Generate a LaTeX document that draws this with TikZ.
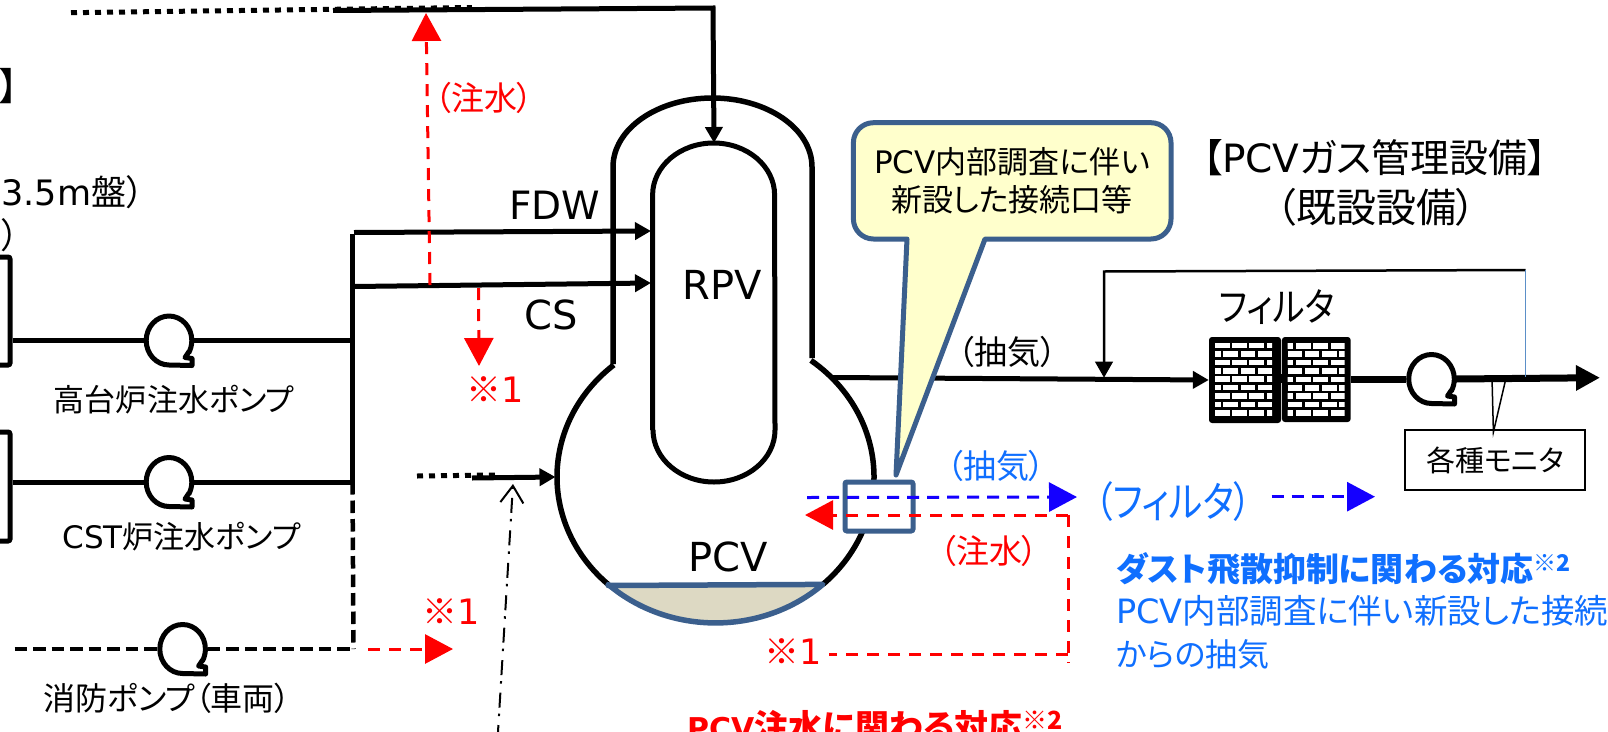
\documentclass[tikz,border=0pt]{standalone}
\usepackage{fontspec}
\usepackage{graphicx}
\usetikzlibrary{arrows.meta,calc}
\setmainfont[RawFeature=+palt]{Noto Sans CJK JP}
\newfontfamily\latf{DejaVu Sans}
\newcommand\fsz[1]{\fontsize{#1}{#1}\selectfont}
\definecolor{nav}{HTML}{3B5F8D}
\definecolor{cfill}{HTML}{FFFFCC}
\definecolor{water}{HTML}{DDD9C3}
\definecolor{tblue}{HTML}{0F6FFF}
\definecolor{ablue}{HTML}{1400FF}
\tikzset{
  pipe/.style={line width=5pt,black},
  dotpipe/.style={line width=5pt,black,dash pattern=on 6pt off 6pt},
  dashpipe/.style={line width=4.5pt,black,dash pattern=on 12.5pt off 6pt},
  blk/.style={-{Triangle[length=16pt,width=17pt]}},
  reddash/.style={line width=3pt,red,dash pattern=on 12pt off 9pt},
  bluedash/.style={line width=3pt,ablue,dash pattern=on 12pt off 8pt},
  redtip/.style={-{Triangle[length=28pt,width=29pt]}},
  bluetip/.style={-{Triangle[length=28pt,width=29pt]}},
  lbl/.style={inner sep=0pt,font=\fsz{31}},
  rlbl/.style={lbl,red,font=\fsz{33}},
  blbl/.style={lbl,tblue,font=\fsz{33}},
  latin/.style={inner sep=0pt,font=\fsz{40}\latf},
  pumpn/.style={rectangle,inner sep=0pt,minimum width=50pt,minimum height=50pt},
  pumpline/.style={line width=5pt,black,line join=round},
  boxn/.style={rectangle,inner sep=0pt,draw=black,line width=5pt,rounded corners=2pt},
  filtn/.style={rectangle,inner sep=0pt,fill=black,rounded corners=3pt},
}
\newcommand\pumpat[3]{%
  \node[pumpn] (#1) at (#2,#3) {};
  \draw[pumpline] (#2+20,#3+11) -- (#2+16,#3+17) -- (#2+23,#3+18) -- (#2+23,#3+25) -- (#2,#3+24.5)
     arc[start angle=90,end angle=390,x radius=22.8,y radius=24.5];
}
% name, cx, cy, w, h, inner x, inner y, phase
\newcommand\filterat[8]{%
  \node[filtn,minimum width=#4pt,minimum height=#5pt] (#1) at (#2,#3) {};
  \begin{scope}
    \clip (#6,#7) rectangle (#6+57,#7+73);
    \foreach \i in {0,...,8} {
      \pgfmathsetmacro\off{mod(\i+#8,2)==0?-8.8:0}
      \foreach \k in {0,...,4}
        \fill[white] ({#6+\off+\k*17.2},{#7+\i*8.4}) rectangle ({#6+\off+\k*17.2+14.5},{#7+\i*8.4+5.6});
    }
  \end{scope}
}
\begin{document}
\begin{tikzpicture}[x=1pt,y=1pt,yscale=-1]
\useasboundingbox (0,0) rectangle (1608,731);
\clip (0,0) rectangle (1608,731);
\fill[white] (0,0) rectangle (1608,731);

% ---- left boxes (cut by the edge)
\node[boxn,minimum width=70pt,minimum height=108pt] (b1) at (-25,311) {};
\node[boxn,minimum width=70pt,minimum height=109pt] (b2) at (-25,486.5) {};

% ---- pumps
\pumpat{p1}{169}{340.5}
\pumpat{p2}{169}{482}
\pumpat{p3}{182.6}{649}
\pumpat{p4}{1431.5}{379}

% ---- water-injection header
\coordinate (hTop) at (352.5,234);
\coordinate (hMid) at (352.5,340.5);
\coordinate (hLow) at (352.5,482);
\coordinate (hEnd) at (353.5,649);
\draw[pipe] (b1.east |- p1.west) -- (p1.west);
\draw[pipe] (p1.east) -- (hMid);
\draw[pipe] (b2.east |- p2.west) -- (p2.west);
\draw[pipe] (p2.east) -- (hLow);
\draw[pipe] (hTop) -- (hLow);
\draw[dashpipe] (hLow) -- (hEnd);
\coordinate (fsL) at (14.5,649);
\draw[dashpipe] (fsL) -- (p3.west);
\draw[dashpipe] (p3.east) -- (hEnd);

% ---- vessels
\coordinate (rTop) at (714,143);
\draw[pipe] (652.6,430) -- (652.6,195) arc[start angle=180,end angle=360,x radius=61,y radius=52] -- (775,430)
   arc[start angle=0,end angle=180,x radius=61,y radius=52];
\draw[line width=5.5pt,black] (613,364) -- (613,167) arc[start angle=180,end angle=360,x radius=99.5,y radius=69] -- (812,358);
\draw[line width=5.5pt,black] (810.9,360.4) arc[start angle=-53,end angle=47.4,x radius=158.5,y radius=146];
\draw[line width=5.5pt,black] (608.2,584.4) arc[start angle=132.6,end angle=230.1,x radius=158.5,y radius=146];
\draw[line width=5.5pt,nav,fill=water,line join=round] (608.2,585.5) -- (822.8,584.4) arc[start angle=47.4,end angle=132.6,x radius=158.5,y radius=146] -- cycle;

% ---- feeds to the RPV
\coordinate (fdwS) at (354,232.5);
\coordinate (fdwE) at (651,231);
\coordinate (csS) at (354,286.5);
\coordinate (csE) at (651,283);
\draw[pipe,blk] (fdwS) -- (fdwE);
\draw[pipe,blk] (csS) -- (csE);
\coordinate (topA) at (333,10.5);
\coordinate (topB) at (713,8);
\coordinate (topS) at (71,12.7);
\coordinate (topD) at (472,7.5);
\draw[dotpipe] (topS) -- (topD);
\draw[pipe,line join=miter,blk] (topA) -- (topB) -- (rTop);

% ---- side feed into the PCV
\coordinate (sdS) at (417,476);
\coordinate (sdD) at (495,475);
\coordinate (sdA) at (472,478);
\coordinate (sdE) at (555.5,477);
\draw[dotpipe] (sdS) -- (sdD);
\draw[pipe,blk] (sdA) -- (sdE);
\coordinate (ddS) at (497.5,740);
\coordinate (ddE) at (513,484);
\draw[line width=2pt,black,dash pattern=on 15pt off 9pt on 2.5pt off 6pt,-{Straight Barb[length=17pt,width=23pt]}] (ddS) -- (ddE);

% ---- gas line
\coordinate (gasS) at (833,377.5);
\coordinate (mix) at (1104,377.7);
\filterat{f1}{1245}{380}{72}{86}{1215}{342.7}{1}
\filterat{f2}{1316.3}{379.5}{68.7}{85}{1287.7}{343}{0}
\draw[pipe,blk] (gasS) -- (f1.west);
\fill[black] (f1.east |- 0,374) rectangle (f2.west |- 0,383);
\draw[line width=7pt,black] (f2.east) -- (p4.west |- f2.east);
\coordinate (gasE) at (1600,377.7);
\coordinate (gasM) at (1456,379);
\draw[line width=7pt,black,-{Triangle[length=24pt,width=24pt]}] (gasM) -- (gasE);
\coordinate (fbA) at (1525.6,270);
\draw[line width=2.5pt,black,-{Triangle[length=16pt,width=17.5pt]}] (fbA) -- (1104,271.5) -- (mix);
\coordinate (fbB) at (1525.6,376.7);
\draw[line width=1.5pt,color={rgb,255:red,91;green,143;blue,200}] (fbA) -- (fbB);
\node[draw=black,line width=2pt,rectangle,inner sep=0pt,minimum width=180pt,minimum height=60pt,lbl,font=\fsz{29}] (mon) at (1495,460) {各種モニタ};
\coordinate (wa) at (1492,378);
\coordinate (wb) at (1506,378);
\coordinate (wc) at (1493.4,432);
\draw[line width=1.5pt,black] (wa) -- (wc) -- (wb);

% ---- callout
\draw[line width=5pt,nav,fill=cfill,line join=round] (907,239) [sharp corners] -- (896,475) -- (985,239)
  [rounded corners=20pt] -- (1171,239) -- (1171,122.7) -- (853.4,122.7) -- (853.4,239) [sharp corners] -- cycle;
\node[lbl,font=\fsz{31}] (c1) at (1012,162) {{\latf PCV}内部調査に伴い};
\node[lbl,font=\fsz{31}] (c2) at (1012,200) {新設した接続口等};

% ---- connection box
\node[rectangle,draw=nav,line width=5pt,fill=white,rounded corners=2pt,inner sep=0pt,minimum width=68pt,minimum height=49pt] (port) at (879,506.5) {};

% ---- red / blue dashed flows
\coordinate (redU) at (426,13);
\coordinate (redUs) at (430,285);
\draw[reddash,redtip] (redUs) -- (redU);
\coordinate (redDs) at (478.5,288);
\coordinate (redDe) at (479,366);
\draw[reddash,redtip] (redDs) -- (redDe);
\coordinate (redRs) at (368,649);
\coordinate (redRe) at (453,649);
\draw[reddash,redtip] (redRs) -- (redRe);
\coordinate (blA) at (807,497.5);
\coordinate (blB) at (1077,497);
\draw[bluedash,bluetip] (blA) -- (blB);
\coordinate (blC) at (1271.5,496.7);
\coordinate (blD) at (1375,496.7);
\draw[bluedash,bluetip] (blC) -- (blD);
\coordinate (rcA) at (1068,515);
\coordinate (rcB) at (805,515);
\coordinate (rcC) at (1068,663);
\coordinate (rcD) at (829,654);
\coordinate (rcE) at (1068,654);
\draw[reddash,redtip] (rcA) -- (rcB);
\draw[reddash] (rcA) -- (rcC);
\draw[reddash] (rcE) -- (rcD);

% ---- texts
\node[inner sep=0pt,font=\fsz{38},anchor=east] (t0) at (19,86) {】};
\node[inner sep=0pt,font=\fsz{35},anchor=east] (t1) at (144,192) {{\latf 3.5m}盤）};
\node[inner sep=0pt,font=\fsz{35},anchor=east] (t2) at (19,235) {）};
\node[rlbl] (t3) at (484,98) {（注水）};
\node[rlbl,font=\fsz{35}] (t4) at (495,390) {※{\latf 1}};
\node[rlbl,font=\fsz{35}] (t5) at (451,612) {※{\latf 1}};
\node[rlbl,font=\fsz{35}] (t6) at (793,652) {※{\latf 1}};
\node[lbl] (t7) at (174,400) {高台炉注水ポンプ};
\node[lbl] (t8) at (181.5,537) {{\latf CST}炉注水ポンプ};
\node[lbl,font=\fsz{32}] (t9) at (167,698) {消防ポンプ（車両）};
\node[latin,font=\fsz{39}\latf] (t10) at (555,205) {FDW};
\node[latin] (t11) at (551,315) {CS};
\node[latin] (t12) at (722.5,285) {RPV};
\node[latin] (t13) at (727.7,557) {PCV};
\node[lbl,font=\fsz{33}] (t14) at (1007.6,352) {（抽気）};
\node[blbl] (t15) at (996,465.7) {（抽気）};
\node[rlbl] (t16) at (989,550.7) {（注水）};
\node[blbl,font=\fsz{35}] (t17) at (1173.6,502) {\scalebox{1.02}[1.2]{（フィルタ）}};
\node[lbl,font=\fsz{34}] (t18) at (1277,307) {\scalebox{1}[1.15]{フィルタ}};
\node[lbl,font=\fsz{39}] (t19) at (1375,158) {【{\latf PCV}ガス管理設備】};
\node[lbl,font=\fsz{40}] (t20) at (1376,207) {（既設設備）};
\node[inner sep=0pt,anchor=base west,font=\fsz{33}\bfseries,tblue] (t21) at (1116,581) {ダスト飛散抑制に関わる対応\raisebox{10pt}{\fsz{23}※2}};
\node[inner sep=0pt,anchor=base west,font=\fsz{33.5},tblue] (t22) at (1116,623) {{\latf PCV}内部調査に伴い新設した接続};
\node[inner sep=0pt,anchor=base west,font=\fsz{32},tblue] (t23) at (1116,666) {からの抽気};
\node[inner sep=0pt,anchor=base west,font=\fsz{34}\bfseries,red] (t24) at (687,739) {{\fsz{30}\latf\bfseries PCV}注水に関わる対応\raisebox{10pt}{\fsz{25}※2}};
\end{tikzpicture}
\end{document}
